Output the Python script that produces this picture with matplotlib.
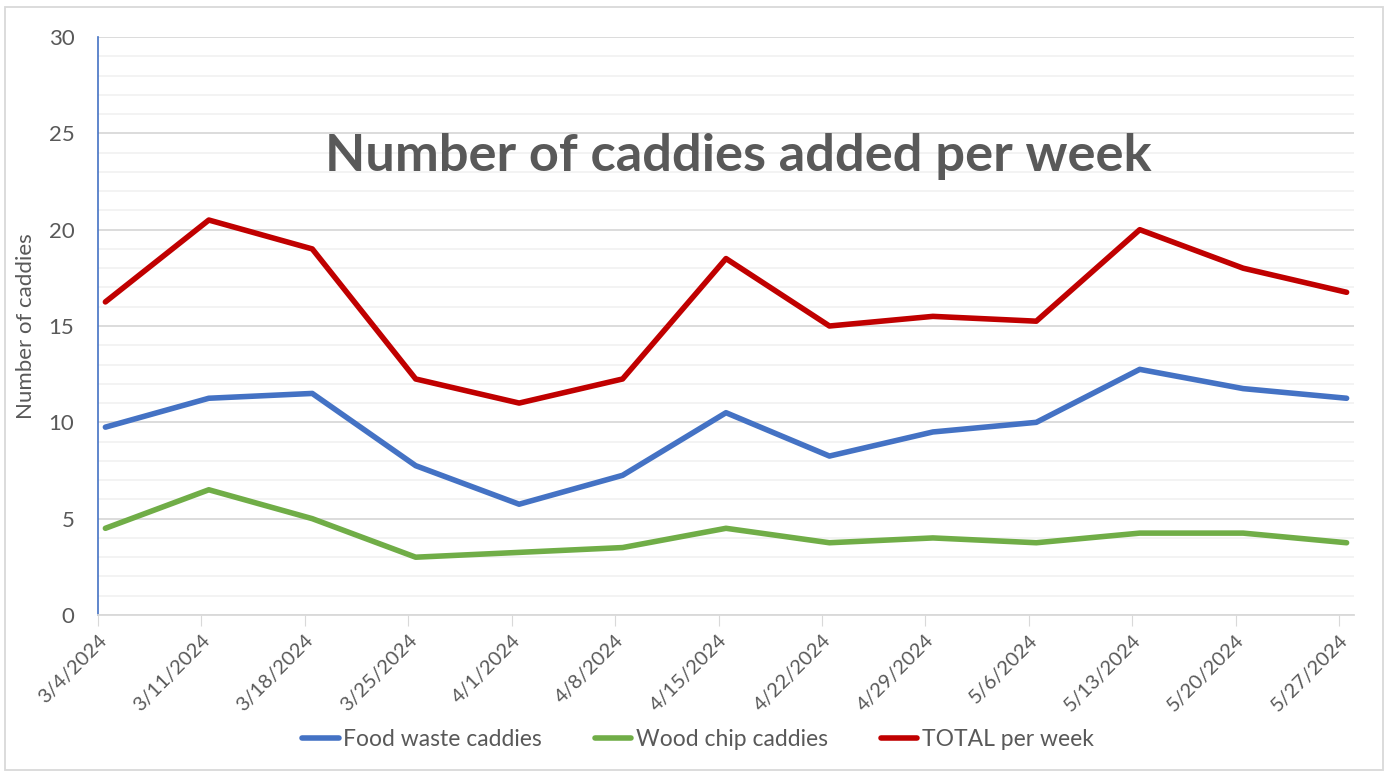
import matplotlib
matplotlib.use("Agg")
import matplotlib.pyplot as plt
from matplotlib.patches import Rectangle
import numpy as np

dates = ["3/4/2024", "3/11/2024", "3/18/2024", "3/25/2024", "4/1/2024", "4/8/2024",
         "4/15/2024", "4/22/2024", "4/29/2024", "5/6/2024", "5/13/2024", "5/20/2024", "5/27/2024"]
food = [9.75, 11.25, 11.5, 7.75, 5.75, 7.25, 10.5, 8.25, 9.5, 10.0, 12.75, 11.75, 11.25]
wood = [4.5, 6.5, 5.0, 3.0, 3.25, 3.5, 4.5, 3.75, 4.0, 3.75, 4.25, 4.25, 3.75]
total = [16.25, 20.5, 19.0, 12.25, 11.0, 12.25, 18.5, 15.0, 15.5, 15.25, 20.0, 18.0, 16.75]

plt.rcParams['font.family'] = ['Lato', 'DejaVu Sans']
txt = '#595959'

fig = plt.figure(figsize=(13.88, 7.76), dpi=100)
W, H = 1388, 776
ax = fig.add_axes([98 / W, 1 - 615 / H, (1354 - 98) / W, (615 - 37) / H])

# date axis: days since first date, points centred in the day
days = np.arange(len(dates)) * 7
xpts = days + 0.5
ax.plot(xpts, food, color='#4472C4', lw=4, solid_capstyle='round', solid_joinstyle='round', label='Food waste caddies')
ax.plot(xpts, wood, color='#70AD47', lw=4, solid_capstyle='round', solid_joinstyle='round', label='Wood chip caddies')
ax.plot(xpts, total, color='#C00000', lw=4, solid_capstyle='round', solid_joinstyle='round', label='TOTAL per week')

ax.set_xlim(0, days[-1] + 1)
ax.set_ylim(0, 30)
ax.set_yticks(np.arange(0, 31, 5))
ax.set_yticks(np.arange(0, 31, 1), minor=True)
ax.yaxis.grid(True, which='major', color='#d9d9d9', lw=1.3)
ax.yaxis.grid(True, which='minor', color='#f2f2f2', lw=1.3)
ax.set_axisbelow(True)
ax.set_xticks(days)
ax.set_xticklabels(dates, rotation=45, ha='right', rotation_mode='anchor')
ax.tick_params(axis='x', length=8, color='#d9d9d9', labelsize=14.5, labelcolor=txt, pad=4)
ax.tick_params(axis='y', which='both', length=0, labelsize=16, labelcolor=txt, pad=17)
for s in ['top', 'right']:
    ax.spines[s].set_visible(False)
ax.spines['left'].set_color('#4472C4')
ax.spines['left'].set_linewidth(1.2)
ax.spines['bottom'].set_color('#d9d9d9')
ax.spines['bottom'].set_linewidth(1.3)

ax.set_ylabel('Number of caddies', fontsize=16, color=txt)
ax.yaxis.set_label_coords(-62 / (1354 - 98), 0.5)

fig.text(738 / W, 1 - 157 / H, 'Number of caddies added per week', fontsize=37.7,
         fontweight='bold', color=txt, ha='center', va='center')

leg = fig.legend(loc='center', bbox_to_anchor=(698 / W, 1 - 740 / H), ncol=3, frameon=False,
                 fontsize=16.5, handlelength=1.6, columnspacing=2.3, handletextpad=0.2)
for t in leg.get_texts():
    t.set_color(txt)

fig.patches.append(Rectangle((5 / W, 6 / H), (1383 - 5) / W, (770 - 7) / H, transform=fig.transFigure,
                             fill=False, edgecolor='#d9d9d9', lw=1.3))

fig.savefig('out.png', dpi=100)
